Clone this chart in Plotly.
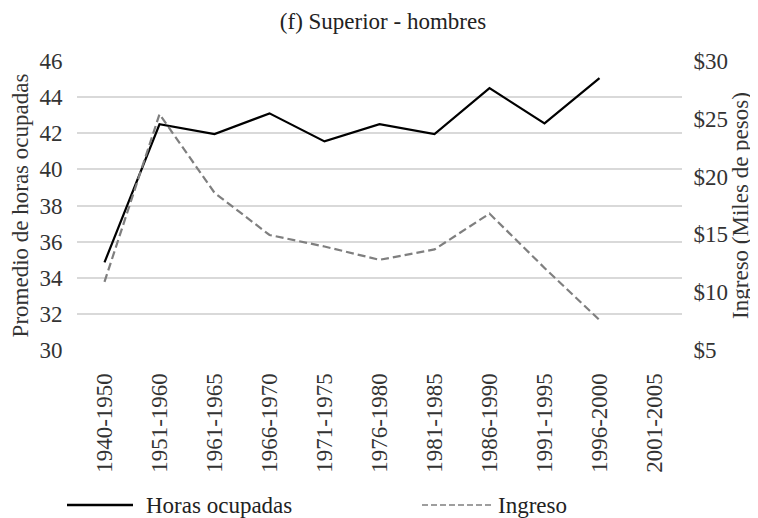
import plotly.graph_objects as go

periodos = ["1940-1950", "1951-1960", "1961-1965", "1966-1970", "1971-1975",
            "1976-1980", "1981-1985", "1986-1990", "1991-1995", "1996-2000", "2001-2005"]
horas = [34.85, 42.5, 41.95, 43.1, 41.55, 42.5, 41.95, 44.5, 42.55, 45.05, None]
ingreso = [10.9, 25.4, 18.6, 14.95, 13.95, 12.8, 13.7, 16.8, 12.1, 7.6, None]

left_ticks = [30, 32, 34, 36, 38, 40, 42, 44, 46]
right_ticks = [5, 10, 15, 20, 25, 30]
right_labels = ["$" + str(v) for v in right_ticks]
series_names = ["Horas ocupadas", "Ingreso"]

FONT = "Liberation Serif"
FS = 23
W, H = 750, 510
L, R, T, B = 69, 76, 53, 168
PW, PH = W - L - R, H - T - B


def px(fx):
    return (fx - L) / PW


def py(fy):
    return (H - B - fy) / PH


fig = go.Figure()
fig.add_trace(go.Scatter(x=periodos, y=horas, name=series_names[0], mode="lines",
                         line=dict(color="black", width=2.2), showlegend=False))
fig.add_trace(go.Scatter(x=periodos, y=ingreso, name=series_names[1], mode="lines", yaxis="y2",
                         line=dict(color="#7f7f7f", width=2.2, dash="8px,4px"), showlegend=False))

# legend drawn as lines + text
ly = py(497)
fig.add_shape(type="line", xref="paper", yref="paper", x0=px(59), x1=px(125), y0=ly, y1=ly,
              line=dict(color="black", width=2.5))
fig.add_shape(type="line", xref="paper", yref="paper", x0=px(414), x1=px(484), y0=ly, y1=ly,
              line=dict(color="#7f7f7f", width=1.6, dash="6px,3px"))
fig.add_annotation(xref="paper", yref="paper", x=px(136), y=ly, xanchor="left", yanchor="middle",
                   text=series_names[0], showarrow=False, font=dict(family=FONT, size=FS, color="#222222"))
fig.add_annotation(xref="paper", yref="paper", x=px(488), y=ly, xanchor="left", yanchor="middle",
                   text=series_names[1], showarrow=False, font=dict(family=FONT, size=FS, color="#222222"))

fig.update_layout(
    width=W, height=H,
    margin=dict(l=L, r=R, t=T, b=B, autoexpand=False),
    paper_bgcolor="white", plot_bgcolor="white",
    font=dict(family=FONT, color="#333333", size=FS),
    title=dict(text="(f) Superior - hombres", x=0.5, xanchor="center", y=1 - 13 / H, yanchor="middle",
               font=dict(family=FONT, size=FS, color="#222222")),
    xaxis=dict(type="category", tickangle=-90, showgrid=False, showline=False,
               ticks="outside", ticklen=13, tickcolor="rgba(0,0,0,0)",
               tickfont=dict(family=FONT, size=FS, color="#333333"), range=[-0.5, 10.5]),
    yaxis=dict(range=[30, 46], tickvals=left_ticks, showgrid=True, gridcolor="#d9d9d9",
               gridwidth=1.5, zeroline=False, showline=False,
               ticks="outside", ticklen=9, tickcolor="rgba(0,0,0,0)",
               title=dict(text="Promedio de horas ocupadas", font=dict(family=FONT, size=FS), standoff=5),
               tickfont=dict(family=FONT, size=FS)),
    yaxis2=dict(range=[5, 30], tickvals=right_ticks, ticktext=right_labels, overlaying="y",
                side="right", showgrid=False, zeroline=False, showline=False,
                ticks="outside", ticklen=6, tickcolor="rgba(0,0,0,0)",
                title=dict(text="Ingreso (Miles de pesos)", font=dict(family=FONT, size=FS), standoff=0),
                tickfont=dict(family=FONT, size=FS)),
    showlegend=False,
)
fig.write_html("out.html")
